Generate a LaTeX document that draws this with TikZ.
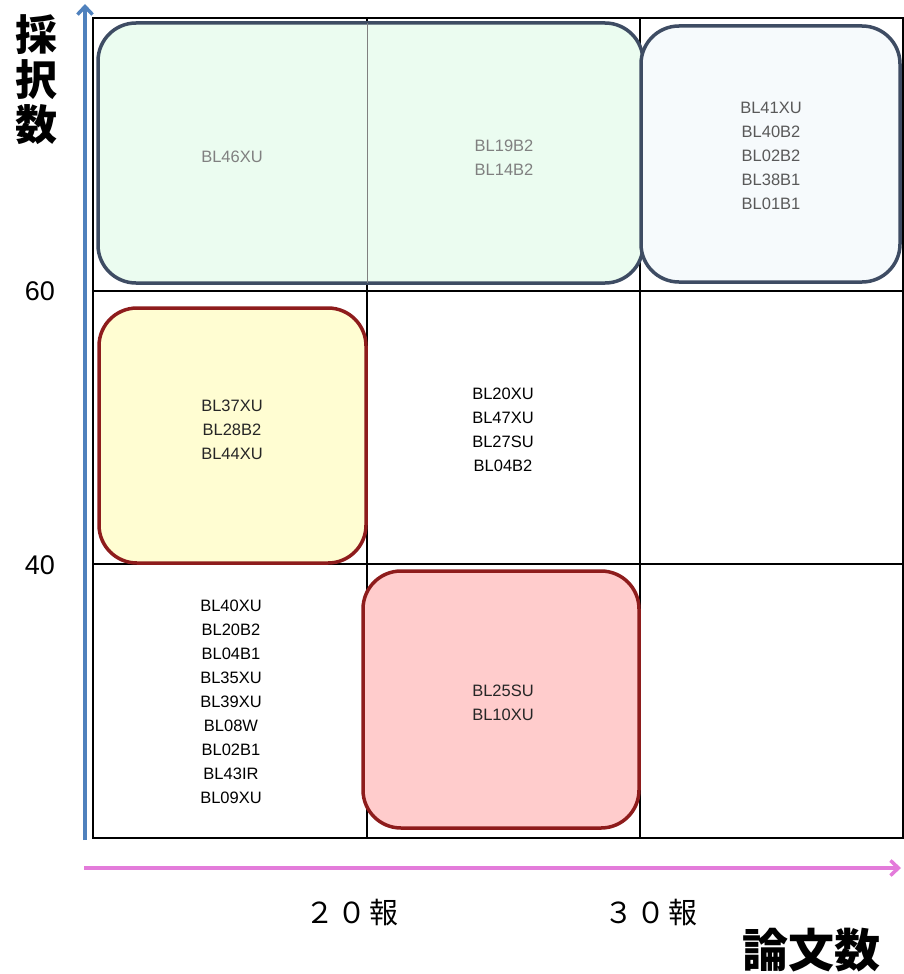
\documentclass[tikz,border=0pt]{standalone}
\usepackage{fontspec}
\usetikzlibrary{arrows.meta}
\setmainfont{Liberation Sans}
\newfontfamily\cjk{Noto Sans CJK JP}
\begin{document}
\begin{tikzpicture}[x=1pt,y=-1pt,
  grid/.style={draw=black,line width=1.2pt},
  rbox/.style={line width=3.5pt,rounded corners=38pt},
  bl/.style={font=\fontsize{16.5}{24}\selectfont,align=center},
  jp/.style={font=\cjk\fontsize{29}{34}\selectfont},
  num/.style={font=\fontsize{27}{30}\selectfont}]
\useasboundingbox (0,0) rectangle (903,974);
% grid
\draw[grid] (93,18) rectangle (903,838);
\draw[grid] (93,291) -- (903,291);
\draw[grid] (93,564) -- (903,564);
\draw[grid] (367,18) -- (367,838);
\draw[grid] (640,18) -- (640,838);
% rounded boxes
\definecolor{bdblue}{HTML}{3E4C63}
\definecolor{bdred}{HTML}{8E1C1C}
\definecolor{fgreen}{HTML}{EBFCF0}
\definecolor{fwhite}{HTML}{F6FAFC}
\definecolor{fyellow}{HTML}{FFFDD2}
\definecolor{fred}{HTML}{FFCCCC}
\definecolor{axblue}{HTML}{4F81BD}
\definecolor{axpink}{HTML}{E37BDA}
\draw[rbox,draw=bdblue,fill=fgreen] (98,23) rectangle (643,283);
\draw[line width=0.8pt,draw=gray] (367,23) -- (367,283);
\draw[rbox,draw=bdblue,fill=fwhite] (641,26) rectangle (900,282);
\draw[rbox,draw=bdred,fill=fyellow] (99,308) rectangle (366,563);
\draw[rbox,draw=bdred,fill=fred] (363,571) rectangle (639,828);
% labels
\node[bl,text=gray] (g1) at (232,157) {BL46XU};
\node[bl,text=gray] (g2) at (504,158) {BL19B2\\BL14B2};
\node[bl,text=black!65] (w1) at (771,156) {BL41XU\\BL40B2\\BL02B2\\BL38B1\\BL01B1};
\node[bl,text=black!85] (y1) at (232,430) {BL37XU\\BL28B2\\BL44XU};
\node[bl] (m1) at (503,430) {BL20XU\\BL47XU\\BL27SU\\BL04B2};
\node[bl] (l1) at (231,702) {BL40XU\\BL20B2\\BL04B1\\BL35XU\\BL39XU\\BL08W\\BL02B1\\BL43IR\\BL09XU};
\node[bl,text=black!85] (r1) at (503,703) {BL25SU\\BL10XU};
% axes
\coordinate (yb) at (85,840);
\coordinate (yt) at (85,4);
\draw[line width=3.5pt,draw=axblue,-{Straight Barb[length=8pt,width=15pt]}] (yb) -- (yt);
\coordinate (xb) at (84,868);
\coordinate (xt) at (901,868);
\draw[line width=3.5pt,draw=axpink,-{Straight Barb[length=8pt,width=15pt]}] (xb) -- (xt);
\node[num] (n60) at (40,291) {60};
\node[num] (n40) at (40,565) {40};
\node[jp] (t20) at (352,913) {２\hspace{3pt}０\hspace{3pt}報};
\node[jp] (t30) at (651,913) {３\hspace{3pt}０\hspace{3pt}報};
\node[font=\cjk\fontsize{46}{50}\selectfont\bfseries] (xl) at (811,950) {論文数};
\node[font=\cjk\fontsize{42}{45}\selectfont\bfseries,align=center] (yl) at (36,80) {採\\択\\数};
\end{tikzpicture}
\end{document}
